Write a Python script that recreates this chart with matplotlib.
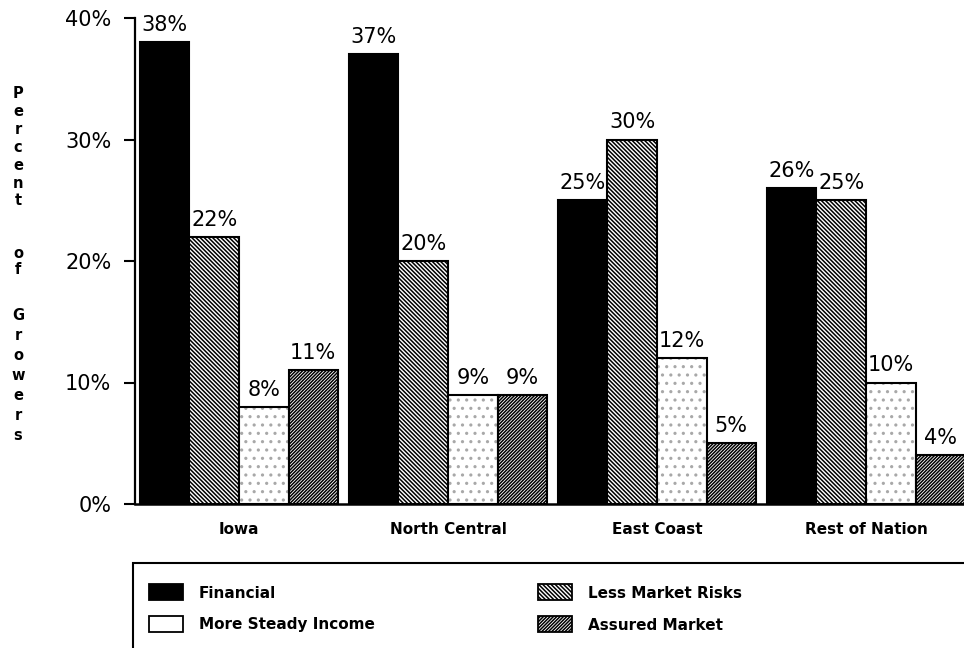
import matplotlib
matplotlib.use("Agg")
import matplotlib.pyplot as plt
from matplotlib.patches import Rectangle
import numpy as np

regions = ["Iowa", "North Central", "East Coast", "Rest of Nation"]
series_names = ["Financial", "Less Market Risks", "More Steady Income", "Assured Market"]
financial = [38, 37, 25, 26]
less_market_risks = [22, 20, 30, 25]
more_steady_income = [8, 9, 12, 10]
assured_market = [11, 9, 5, 4]
y_ticks = [0, 10, 20, 30, 40]
y_tick_labels = ["0%", "10%", "20%", "30%", "40%"]
ylabel_text = "Percent of Growers"

plt.rcParams['hatch.linewidth'] = 1.1
plt.rcParams['font.family'] = ['DejaVu Sans']

HATCH_LESS = "\\" * 8
HATCH_ASSURED = "/" * 10

W, H = 964, 648
fig = plt.figure(figsize=(W / 100, H / 100), dpi=100)
fig.patch.set_facecolor("white")

ax = fig.add_axes([135 / W, (H - 504) / H, (W - 135) / W, (504 - 18) / H])

x = np.arange(len(regions))
bw = 0.237
offs = [-1.5 * bw, -0.5 * bw, 0.5 * bw, 1.5 * bw]

# Financial: solid black
ax.bar(x + offs[0], financial, bw, color="black", edgecolor="black", linewidth=1.5)
# Less market risks: backslash hatch
ax.bar(x + offs[1], less_market_risks, bw, facecolor="white", edgecolor="black",
       hatch=HATCH_LESS, linewidth=1.5)
# More steady income: sparse stipple
ax.bar(x + offs[2], more_steady_income, bw, facecolor="white", edgecolor="#a8a8a8",
       hatch="..", linewidth=0)
ax.bar(x + offs[2], more_steady_income, bw, fill=False, edgecolor="black", linewidth=1.5)
# Assured market: forward slash hatch (denser)
ax.bar(x + offs[3], assured_market, bw, facecolor="white", edgecolor="black",
       hatch=HATCH_ASSURED, linewidth=1.5)

all_series = [financial, less_market_risks, more_steady_income, assured_market]
for s, vals in enumerate(all_series):
    for i, v in enumerate(vals):
        ax.annotate(f"{v}%", xy=(x[i] + offs[s], v), xytext=(0, 8),
                    textcoords="offset points", ha="center", va="baseline",
                    fontsize=15, color="black", annotation_clip=False)

ax.set_xlim((135 - 239) / 209, (964 - 239) / 209)
ax.set_ylim(0, 40)
ax.set_yticks(y_ticks)
ax.set_yticklabels(y_tick_labels, fontsize=15)
ax.set_xticks(x)
ax.set_xticklabels(regions, fontsize=11, fontweight="bold")
ax.tick_params(axis="x", length=0, pad=13)
ax.tick_params(axis="y", direction="out", length=8, width=1.5, pad=9)
for side in ["top", "right"]:
    ax.spines[side].set_visible(False)
ax.spines["left"].set_linewidth(1.6)
ax.spines["bottom"].set_linewidth(1.8)

# vertical stacked y label
letter_y = [93, 111, 129, 147, 165, 183, 201, None, 253, 269, None,
            315, 335, 355, 376, 396, 416, 435]
for ch, yp in zip(ylabel_text, letter_y):
    if ch == " " or yp is None:
        continue
    fig.text(18 / W, 1 - yp / H, ch, ha="center", va="center",
             fontsize=10.5, fontweight="bold")

def fx(px):
    return px / W

def fy(py):
    return 1 - py / H

# legend box (extends beyond figure bottom/right)
fig.add_artist(Rectangle((fx(133), fy(680)), fx(1000) - fx(133), fy(563) - fy(680),
                         transform=fig.transFigure, fill=False, edgecolor="black",
                         linewidth=1.5))

legend_items = [
    (series_names[0], 149, 584, dict(facecolor="black", edgecolor="black", hatch=None)),
    (series_names[2], 149, 616, dict(facecolor="white", edgecolor="black", hatch=None)),
    (series_names[1], 538, 584, dict(facecolor="white", edgecolor="black", hatch=HATCH_LESS)),
    (series_names[3], 538, 616, dict(facecolor="white", edgecolor="black", hatch=HATCH_ASSURED)),
]
for name, sx, sy, style in legend_items:
    fig.add_artist(Rectangle((fx(sx), fy(sy + 16)), fx(sx + 34) - fx(sx), fy(sy) - fy(sy + 16),
                             transform=fig.transFigure, linewidth=1.3, **style))
    fig.text(fx(sx + 50), fy(sy + 9), name, ha="left", va="center",
             fontsize=11, fontweight="bold")

fig.savefig("out.png", dpi=100, facecolor="white")
